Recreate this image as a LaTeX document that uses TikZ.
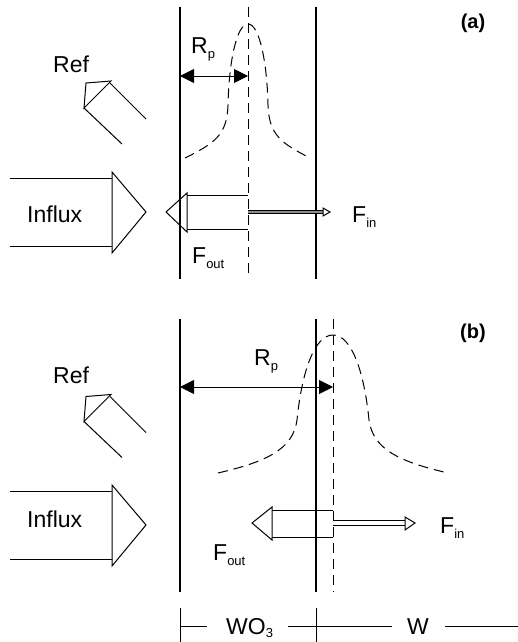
\documentclass[tikz,border=0pt]{standalone}
\usepackage{fontspec}
\setmainfont{Liberation Sans}
\usetikzlibrary{arrows.meta,positioning}
\newcommand{\lsub}[2][5pt]{\raisebox{-#1}{\fontsize{13}{13}\selectfont #2}}
\tikzset{
  >={Triangle[length=14pt,width=14pt]},
  wall/.style={line width=1.7pt},
  edge line/.style={line width=1pt},
  profile/.style={line width=1pt,dash pattern=on 10pt off 6pt},
  lbl/.style={font=\fontsize{23}{24}\selectfont,inner sep=0pt,anchor=base west},
  panel/.style={font=\bfseries\fontsize{20}{22}\selectfont,inner sep=0pt},
  flux in/.style={line width=0.8pt,double=#1},
  flux in/.default=black!45,
  % pictograms
  pics/influx/.style={code={
    \draw[edge line] (0,-34) -- (102,-34) (0,34) -- (102,34);
    \draw[edge line,line join=miter] (102,-40) -- (136,0) -- (102,41) -- cycle;
  }},
  pics/refarrow/.style={code={
    \draw[edge line] (-13.5,13) -- (-11.5,-12) -- (13.5,-14) -- cycle;
    \draw[edge line] (12.5,-12) -- (48.5,24) (-13.5,13) -- (24.5,49);
  }},
}

\begin{document}
\begin{tikzpicture}[x=1pt,y=-1pt]
  \useasboundingbox (0,0) rectangle (518,642);
  % panel (a)
  \coordinate (la) at (180,7);   \coordinate (la') at (180,279);
  \coordinate (ra) at (316,7);   \coordinate (ra') at (316,279);
  \coordinate (pa) at (248,7);   \coordinate (pa') at (248,279);
  \draw[wall] (la) -- (la');
  \draw[wall] (ra) -- (ra');
  \draw[profile] (pa) -- (pa');
  \draw[profile] (185,158) .. controls (215,143) and (227,135) .. (228,105)
    .. controls (229,60) and (237,24) .. (248,24)
    .. controls (259,24) and (267,60) .. (268,105)
    .. controls (269,135) and (281,143) .. (310,158);
  \coordinate (rpa) at (248,76);
  \draw[edge line,<->] (la |- rpa) -- (rpa);
  \node[lbl] (rpl) at (191,54) {R\lsub{p}};
  \node[panel] (tagA) at (473,23) {(a)};
  \pic at (97.5,95) {refarrow};
  \node[lbl] (refA) at (53,72) {Ref};
  \pic at (10,212) {influx};
  \node[lbl] (infA) at (27,222) {Influx};
  % outgoing and incoming flux (a)
  \draw[edge line,line join=miter] (187,193) -- (166,212) -- (187,232) -- cycle;
  \draw[edge line] (187,195) -- (248,195) (187,229) -- (248,229);
  \draw[flux in,double distance=2.5pt] (248,212) -- (323,212);
  \draw[edge line] (323,208) -- (330,212) -- (323,216) -- cycle;
  \node[lbl] (foutA) at (192,263) {F\lsub{out}};
  \node[lbl] (finA) at (352,222) {F\lsub{in}};

  % panel (b)
  \coordinate (lb) at (180,319); \coordinate (lb') at (180,592);
  \coordinate (rb) at (316,319); \coordinate (rb') at (316,592);
  \coordinate (pb) at (333,319); \coordinate (pb') at (333,592);
  \draw[wall] (lb) -- (lb');
  \draw[wall] (rb) -- (rb');
  \draw[profile] (pb) -- (pb');
  \draw[profile] (218,473) .. controls (265,462) and (293,450) .. (297,420)
    .. controls (302,370) and (315,335) .. (333,335)
    .. controls (351,335) and (364,370) .. (369,420)
    .. controls (373,450) and (401,462) .. (448,473);
  \coordinate (rpb) at (333,387);
  \draw[edge line,<->] (lb |- rpb) -- (rpb);
  \node[lbl] (rplB) at (254,365) {R\lsub{p}};
  \node[panel] (tagB) at (473,333) {(b)};
  \pic at (97.5,408.5) {refarrow};
  \node[lbl] (refB) at (53,383) {Ref};
  \pic at (10,525) {influx};
  \node[lbl] (infB) at (27,527) {Influx};
  % outgoing and incoming flux (b)
  \draw[edge line,line join=miter] (272,507) -- (252,523) -- (272,540) -- cycle;
  \draw[edge line] (272,510) -- (333,510) (272,537) -- (333,537);
  \draw[flux in=white,double distance=4pt] (333,523) -- (405,523);
  \draw[edge line] (405,517) -- (415,523) -- (405,530) -- cycle;
  \node[lbl] (foutB) at (213,560) {F\lsub{out}};
  \node[lbl] (finB) at (440,533) {F\lsub{in}};

  % layer scale
  \draw[edge line] (180,608) -- (180,642) (316,608) -- (316,642);
  \draw[edge line] (180,626) -- (207,626) (288,626) -- (392,626) (445,626) -- (518,626);
  \node[lbl] (wo3) at (226,634) {WO\lsub[3pt]{3}};
  \node[lbl] (w) at (407,634) {W};
\end{tikzpicture}
\end{document}
